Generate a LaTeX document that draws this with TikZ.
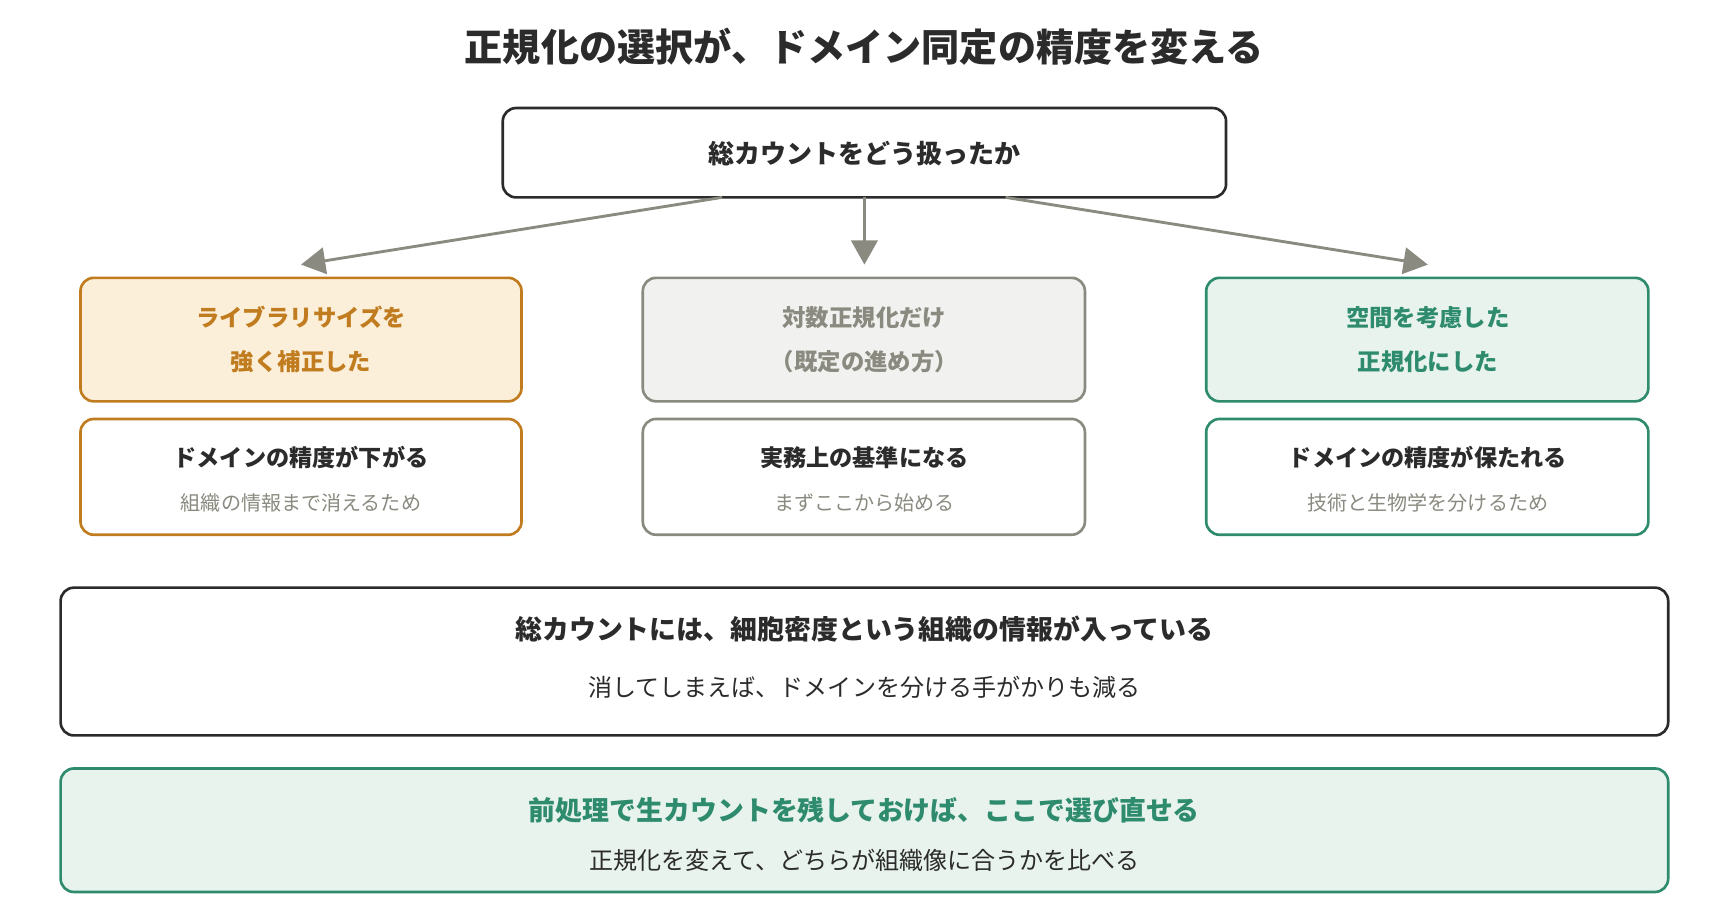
\documentclass[tikz,border=0pt]{standalone}
\usepackage{fontspec}
\setmainfont{Noto Sans CJK JP}
\usetikzlibrary{arrows.meta,positioning}
\definecolor{ink}{HTML}{2B2B2B}
\definecolor{ochre}{HTML}{C07C1E}
\definecolor{ochrebg}{HTML}{FCEFD9}
\definecolor{stone}{HTML}{8A8A80}
\definecolor{stonebg}{HTML}{F1F1EF}
\definecolor{pine}{HTML}{2E8B6E}
\definecolor{pinebg}{HTML}{E7F3EC}
\tikzset{
  box/.style={draw=#1, line width=1.2pt, rounded corners=6pt, fill=white},
  link/.style={stone, line width=1.3pt, -{Triangle[length=11pt,width=12pt]}},
  head/.style={font=\fontsize{10.5}{10.5}\selectfont\bfseries},
  pick/.style={align=center, font=\fontsize{10.6}{20}\selectfont\bfseries},
  note/.style={font=\fontsize{9.1}{9.1}\selectfont, text=stone}
}
\begin{document}
\begin{tikzpicture}[x=0.5pt,y=-0.5pt]
    \useasboundingbox (0,0) rectangle (1560,834);
    % Title
    \node[font=\fontsize{17.3}{17.3}\selectfont\bfseries, text=ink] (title) at (784,42) {正規化の選択が、ドメイン同定の精度を変える};

    % Question
    \draw[box=ink] (456,98) rectangle (1112,179);
    \node[text=ink, font=\fontsize{11.8}{11.8}\selectfont\bfseries] (ask) at (784,139) {総カウントをどう扱ったか};
    \coordinate (askL) at (655,179);
    \coordinate (askM) at (784,179);
    \coordinate (askR) at (912,179);
    \coordinate (toL) at (273,240);
    \coordinate (toM) at (784,240);
    \coordinate (toR) at (1295,240);
    \draw[link] (askL) -- (toL);
    \draw[link] (askM) -- (toM);
    \draw[link] (askR) -- (toR);

    % Three choices
    \draw[box=ochre, fill=ochrebg] (73,252) rectangle (473,364);
    \draw[box=stone, fill=stonebg] (583,252) rectangle (984,364);
    \draw[box=pine, fill=pinebg] (1094,252) rectangle (1495,364);
    \node[pick, text=ochre] (strong) at (273,308) {ライブラリサイズを\\強く補正した};
    \node[pick, text=stone] (logn) at (784,308) {対数正規化だけ\\（既定の進め方）};
    \node[pick, text=pine] (spatial) at (1295,308) {空間を考慮した\\正規化にした};

    % Outcomes
    \draw[box=ochre] (73,380) rectangle (473,485);
    \draw[box=stone] (583,380) rectangle (984,485);
    \draw[box=pine] (1094,380) rectangle (1495,485);
    \node[head, text=ink] (lose) at (273,415) {ドメインの精度が下がる};
    \node[note] (loseW) at (273,456) {組織の情報まで消えるため};
    \node[head, text=ink] (base) at (784,415) {実務上の基準になる};
    \node[note] (baseW) at (784,456) {まずここから始める};
    \node[head, text=ink] (keep) at (1295,415) {ドメインの精度が保たれる};
    \node[note] (keepW) at (1295,456) {技術と生物学を分けるため};

    % Insight
    \draw[box=ink] (55,533) rectangle (1513,667);
    \node[text=ink, font=\fontsize{12.2}{12.2}\selectfont\bfseries] (info) at (784,571) {総カウントには、細胞密度という組織の情報が入っている};
    \node[text=ink, font=\fontsize{10.9}{10.9}\selectfont] (infoW) at (784,623) {消してしまえば、ドメインを分ける手がかりも減る};

    % Advice
    \draw[box=pine, fill=pinebg] (55,697) rectangle (1513,809);
    \node[text=pine, font=\fontsize{12.2}{12.2}\selectfont\bfseries] (raw) at (784,735) {前処理で生カウントを残しておけば、ここで選び直せる};
    \node[text=ink, font=\fontsize{10.9}{10.9}\selectfont] (rawW) at (784,780) {正規化を変えて、どちらが組織像に合うかを比べる};
\end{tikzpicture}
\end{document}
